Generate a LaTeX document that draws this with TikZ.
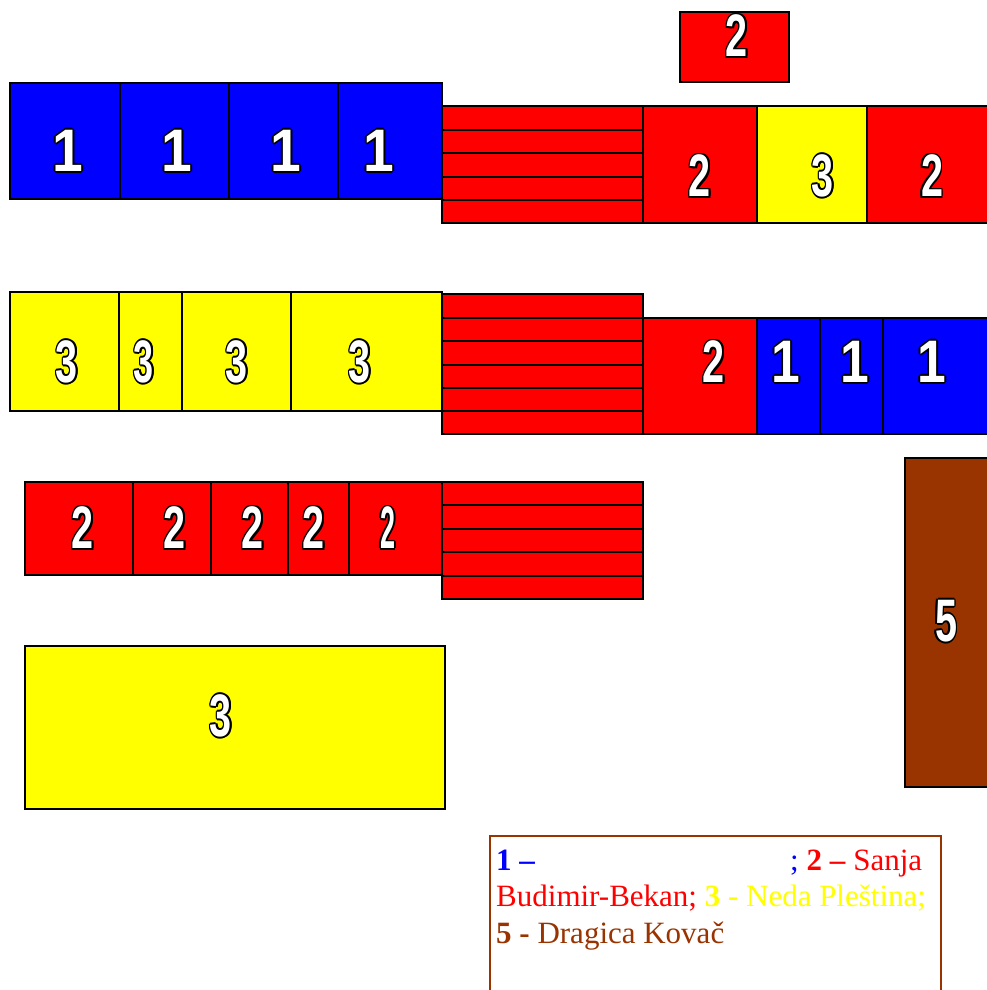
\documentclass[tikz,border=0pt]{standalone}
\usepackage{fontspec}
\usepackage{graphicx}
\setmainfont{Liberation Serif}
\newfontfamily\digitfont{Liberation Sans}
\definecolor{cblue}{HTML}{0000FF}
\definecolor{cred}{HTML}{FF0000}
\definecolor{cyellow}{HTML}{FFFF00}
\definecolor{cbrown}{HTML}{993300}
\newlength\olw \setlength\olw{1.7pt}
\newlength\old \setlength\old{1.2pt}
\newcommand\olgl[2]{\scalebox{#1}[1]{#2}}
\newcommand\olnum[2][0.66]{%
  \rlap{\kern\olw\olgl{#1}{\textcolor{black}{#2}}}%
  \rlap{\kern-\olw\olgl{#1}{\textcolor{black}{#2}}}%
  \rlap{\raisebox{\olw}{\olgl{#1}{\textcolor{black}{#2}}}}%
  \rlap{\raisebox{-\olw}{\olgl{#1}{\textcolor{black}{#2}}}}%
  \rlap{\kern\old\raisebox{\old}{\olgl{#1}{\textcolor{black}{#2}}}}%
  \rlap{\kern\old\raisebox{-\old}{\olgl{#1}{\textcolor{black}{#2}}}}%
  \rlap{\kern-\old\raisebox{\old}{\olgl{#1}{\textcolor{black}{#2}}}}%
  \rlap{\kern-\old\raisebox{-\old}{\olgl{#1}{\textcolor{black}{#2}}}}%
  \olgl{#1}{\textcolor{white}{#2}}}
\tikzset{
  box/.style={draw=black, line width=1.4pt},
  bluebox/.style={box, fill=cblue},
  redbox/.style={box, fill=cred},
  yellowbox/.style={box, fill=cyellow},
  brownbox/.style={box, fill=cbrown},
  num/.style={inner sep=0pt, anchor=center, font=\digitfont\bfseries\fontsize{60}{60}\selectfont},
  legtext/.style={inner sep=0pt, anchor=base west, font=\fontsize{31}{36}\selectfont},
}
\begin{document}
\begin{tikzpicture}[x=1pt, y=-1pt]
\useasboundingbox (0,0) rectangle (987,990);
% ---- row 1 ----
\draw[bluebox] (10,83) rectangle (120,199);
\draw[bluebox] (120,83) rectangle (229,199);
\draw[bluebox] (229,83) rectangle (338,199);
\draw[bluebox] (338,83) rectangle (442,199);
\foreach \a/\b in {106/130,130/153,153/177,177/200,200/223}
  \draw[redbox] (442,\a) rectangle (643,\b);
\draw[redbox] (643,106) rectangle (757,223);
\draw[yellowbox] (757,106) rectangle (867,223);
\draw[redbox] (867,106) rectangle (992,223);
\draw[redbox] (680,12) rectangle (789,82);
\node[num] (r1a) at (68,151) {\olnum[0.92]{1}};
\node[num] (r1b) at (177,151) {\olnum[0.92]{1}};
\node[num] (r1c) at (286,151) {\olnum[0.92]{1}};
\node[num] (r1d) at (379,151) {\olnum[0.92]{1}};
\node[num] (r1e) at (700,176) {\olnum{2}};
\node[num] (r1f) at (823,176) {\olnum{3}};
\node[num] (r1g) at (932,176) {\olnum{2}};
\node[num] (top) at (737,36) {\olnum{2}};
% ---- row 2 ----
\draw[yellowbox] (10,292) rectangle (119,411);
\draw[yellowbox] (119,292) rectangle (182,411);
\draw[yellowbox] (182,292) rectangle (291,411);
\draw[yellowbox] (291,292) rectangle (442,411);
\foreach \a/\b in {294/318,318/341,341/365,365/388,388/411,411/434}
  \draw[redbox] (442,\a) rectangle (643,\b);
\draw[redbox] (643,318) rectangle (757,434);
\draw[bluebox] (757,318) rectangle (820,434);
\draw[bluebox] (820,318) rectangle (883,434);
\draw[bluebox] (883,318) rectangle (992,434);
\node[num] (r2a) at (67,362) {\olnum{3}};
\node[num] (r2b) at (144,362) {\olnum[0.6]{3}};
\node[num] (r2c) at (237,362) {\olnum{3}};
\node[num] (r2d) at (360,362) {\olnum{3}};
\node[num] (r2e) at (714,362) {\olnum{2}};
\node[num] (r2f) at (786,362) {\olnum[0.86]{1}};
\node[num] (r2g) at (855,362) {\olnum[0.86]{1}};
\node[num] (r2h) at (932,362) {\olnum[0.86]{1}};
% ---- row 3 ----
\draw[redbox] (25,482) rectangle (133,575);
\draw[redbox] (133,482) rectangle (211,575);
\draw[redbox] (211,482) rectangle (288,575);
\draw[redbox] (288,482) rectangle (349,575);
\draw[redbox] (349,482) rectangle (442,575);
\foreach \a/\b in {482/505,505/529,529/552,552/576,576/599}
  \draw[redbox] (442,\a) rectangle (643,\b);
\node[num] (r3a) at (83,528) {\olnum{2}};
\node[num] (r3b) at (175,528) {\olnum{2}};
\node[num] (r3c) at (253,528) {\olnum{2}};
\node[num] (r3d) at (314,528) {\olnum{2}};
\node[num] (r3e) at (388,528) {\olnum[0.45]{2}};
% ---- big yellow, brown ----
\draw[yellowbox] (25,646) rectangle (445,809);
\node[num] (big3) at (221,716) {\olnum{3}};
\draw[brownbox] (905,458) rectangle (992,787);
\node[num] (five) at (946,621) {\olnum{5}};
% ---- legend ----
\draw[draw=cbrown, line width=2.5pt] (490,836) rectangle (941,1000);
\node[legtext, text=cblue] (l1a) at (496,870) {\textbf{1 –}};
\node[legtext] (l1b) at (790,870) {\textcolor{cblue}{;} \textcolor{cred}{\textbf{2 –} Sanja}};
\node[legtext] (l2) at (496,906) {\textcolor{cred}{Budimir-Bekan;} \textcolor{cyellow}{\textbf{3 -} Neda Pleština;}};
\node[legtext, text=cbrown] (l3) at (496,943) {\textbf{5 -} Dragica Kovač};
\end{tikzpicture}
\end{document}
